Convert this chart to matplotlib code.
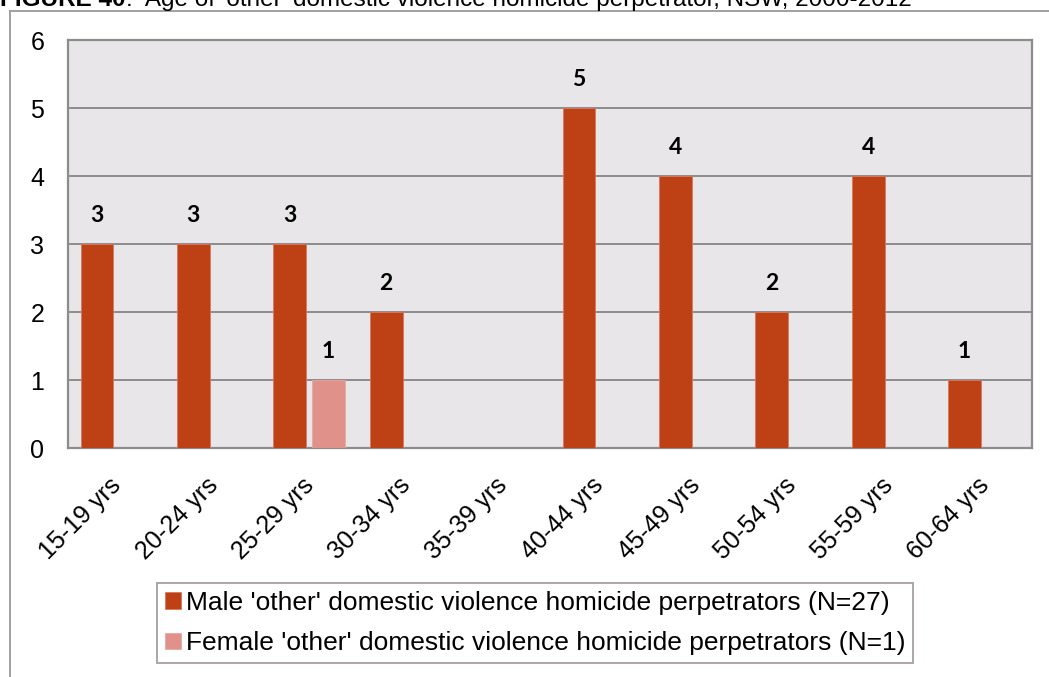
import matplotlib
matplotlib.use('Agg')
import matplotlib.pyplot as plt
import matplotlib.transforms as mtransforms
from matplotlib.lines import Line2D
import numpy as np

plt.rcParams['font.family'] = ['Liberation Sans', 'DejaVu Sans']

# data
age_groups = ['15-19 yrs', '20-24 yrs', '25-29 yrs', '30-34 yrs', '35-39 yrs',
              '40-44 yrs', '45-49 yrs', '50-54 yrs', '55-59 yrs', '60-64 yrs']
male = [3, 3, 3, 2, 0, 5, 4, 2, 4, 1]
female = [0, 0, 1, 0, 0, 0, 0, 0, 0, 0]
male_label = "Male 'other' domestic violence homicide perpetrators (N=27)"
female_label = "Female 'other' domestic violence homicide perpetrators (N=1)"
title_head = "FIGURE 40"
title_rest = ":  Age of 'other' domestic violence homicide perpetrator, NSW, 2000-2012"

male_color = '#BE4115'
female_color = '#E0918A'
grid_color = '#8C8C8C'

fig = plt.figure(figsize=(10.49, 6.77), dpi=100)
ax = fig.add_axes([68/1049, 1-448/677, (1032-68)/1049, (448-40)/677])
ax.set_facecolor('#E8E6E8')

x = np.arange(len(age_groups))
width = 0.34
m = [v if v > 0 else np.nan for v in male]
f = [v if v > 0 else np.nan for v in female]
mb = ax.bar(x - 0.2, m, width, color=male_color, edgecolor='#D9775E', linewidth=0.6,
            label=male_label, zorder=3)
fb = ax.bar(x + 0.2, f, width, color=female_color, edgecolor='#E8A8A2', linewidth=0.6,
            label=female_label, zorder=3)

# value labels above bars
for bars, vals in [(mb, male), (fb, female)]:
    for b, v in zip(bars, vals):
        if v > 0:
            ax.text(b.get_x() + b.get_width()/2, v + 0.27, str(v), ha='center', va='bottom',
                    fontsize=16.5, fontweight='bold', family=['Lato', 'DejaVu Sans'])

ax.set_xlim(-0.5, len(age_groups) - 0.5)
ax.set_ylim(0, 6)
ax.set_yticks(range(0, 7))
ax.yaxis.grid(True, color=grid_color, linewidth=1.4, zorder=0)
ax.set_axisbelow(True)
for s in ax.spines.values():
    s.set_color(grid_color)
    s.set_linewidth(1.6)
ax.tick_params(axis='both', length=0, labelsize=18)
ax.tick_params(axis='y', pad=17)
ax.set_xticks(x)
ax.set_xticklabels(age_groups, rotation=45, ha='right', va='top', rotation_mode='anchor',
                   fontsize=18)
ax.tick_params(axis='x', pad=18)
shift = mtransforms.ScaledTranslation(-7/100, 0, fig.dpi_scale_trans)
for lbl in ax.get_xticklabels():
    lbl.set_transform(lbl.get_transform() + shift)

leg = fig.legend(handles=[mb, fb], loc='upper left', bbox_to_anchor=(157/1049, 1-583/677),
                 fontsize=19, frameon=True, fancybox=False, handlelength=0.6, handleheight=0.6,
                 handletextpad=0.2, labelspacing=0.62, borderpad=0.3, borderaxespad=0)
leg.get_frame().set_edgecolor('#9A9090')
leg.get_frame().set_linewidth(1.4)

# outer chart frame lines
fig.add_artist(Line2D([10/1049, 1], [1-11/677, 1-11/677], color='#A0A0A0', lw=1.4))
fig.add_artist(Line2D([10/1049, 10/1049], [0, 1-11/677], color='#A0A0A0', lw=1.4))

# title, cut off at the top edge as in the source
t1 = fig.text(0, 1 - 6/677, title_head, fontsize=17.5, fontweight='bold', ha='left', va='baseline')
fig.canvas.draw()
bb = t1.get_window_extent()
fig.text(bb.x1 / fig.bbox.width, 1 - 6/677, title_rest, fontsize=17.5, ha='left', va='baseline')

fig.savefig('out.png', dpi=100)
